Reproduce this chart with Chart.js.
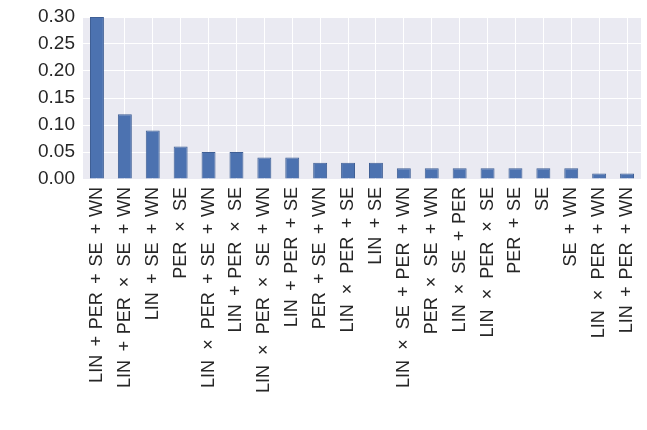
<!DOCTYPE html>
<html>
<head>
<meta charset="utf-8">
<script src="https://cdn.jsdelivr.net/npm/chart.js@4"></script>
<style>
  body { margin: 0; background: #fff; }
  #wrap { width: 647px; height: 430px; }
</style>
</head>
<body>
<div id="wrap"><canvas id="myChart"></canvas></div>
<script>
const models = [
  "LIN + PER + SE + WN", "LIN + PER \u00d7 SE + WN", "LIN + SE + WN", "PER \u00d7 SE",
  "LIN \u00d7 PER + SE + WN", "LIN + PER \u00d7 SE", "LIN \u00d7 PER \u00d7 SE + WN", "LIN + PER + SE",
  "PER + SE + WN", "LIN \u00d7 PER + SE", "LIN + SE", "LIN \u00d7 SE + PER + WN",
  "PER \u00d7 SE + WN", "LIN \u00d7 SE + PER", "LIN \u00d7 PER \u00d7 SE", "PER + SE",
  "SE", "SE + WN", "LIN \u00d7 PER + WN", "LIN + PER + WN"
];
const weights = [0.30, 0.12, 0.09, 0.06, 0.05, 0.05, 0.04, 0.04, 0.03, 0.03,
                 0.03, 0.02, 0.02, 0.02, 0.02, 0.02, 0.02, 0.02, 0.01, 0.01];
const yTicks = [0, 0.05, 0.10, 0.15, 0.20, 0.25, 0.30];

// mathtext-like spacing round the operators
function spaced(label) {
  return label
    .replace(/ \+ /g, ' \u2009+\u200a ')
    .replace(/ \u00d7 /g, ' \u2009\u200a\u00d7\u2009\u200a ');
}

// grey plot background like seaborn darkgrid
const bgPlugin = {
  id: 'bg',
  beforeDraw(chart) {
    const a = chart.chartArea;
    const c = chart.ctx;
    c.save();
    c.fillStyle = '#EAEAF2';
    c.fillRect(a.left, a.top, a.right - a.left, a.bottom - a.top);
    c.restore();
  }
};

const config = {
  type: 'bar',
  data: {
    labels: models.map(spaced),
    datasets: [{
      data: weights,
      backgroundColor: '#4C72B0',
      borderColor: '#3f5f95',
      borderWidth: 1,
      barPercentage: 0.5,
      categoryPercentage: 1.0
    }]
  },
  options: {
    responsive: true,
    maintainAspectRatio: false,
    animation: false,
    layout: { padding: { top: 17, right: 6, left: 0, bottom: 0 } },
    plugins: { legend: { display: false }, tooltip: { enabled: false } },
    scales: {
      x: {
        grid: { color: '#ffffff', lineWidth: 1, offset: false, drawTicks: false },
        border: { display: false },
        ticks: {
          color: '#262626',
          font: { family: 'Liberation Sans, Arial, sans-serif', size: 18 },
          minRotation: 90, maxRotation: 90, autoSkip: false, padding: 8
        },
        afterFit(scale) {
          scale.height = 251;
          scale.paddingLeft = 0;
          scale.paddingRight = 0;
        }
      },
      y: {
        min: 0, max: 0.30,
        grid: { color: '#ffffff', lineWidth: 1, drawTicks: false },
        border: { display: false },
        afterBuildTicks(scale) { scale.ticks = yTicks.map(v => ({ value: v })); },
        ticks: {
          color: '#262626',
          font: { family: 'Liberation Sans, Arial, sans-serif', size: 19 },
          padding: 8,
          callback: v => Number(v).toFixed(2)
        },
        afterFit(scale) {
          scale.width = 83;
          scale.paddingTop = 0;
          scale.paddingBottom = 0;
        }
      }
    }
  },
  plugins: [bgPlugin]
};

const myChart = new Chart(document.getElementById('myChart'), config);
</script>
</body>
</html>
